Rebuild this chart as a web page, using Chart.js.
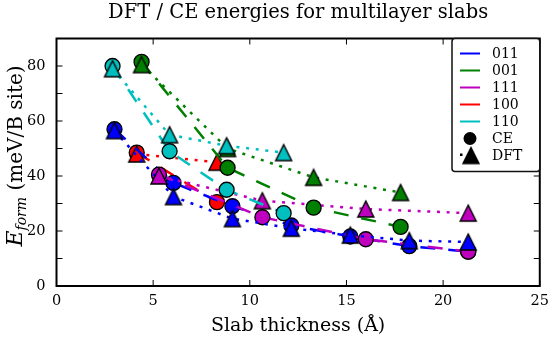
<!DOCTYPE html>
<html>
<head>
<meta charset="utf-8">
<script src="https://cdn.jsdelivr.net/npm/chart.js@4"></script>
<style>
  body { margin: 0; background: #fff; }
  #wrap { width: 556px; height: 343px; }
</style>
</head>
<body>
<div id="wrap"><canvas id="chart"></canvas></div>
<script>
// Slab thickness (Å) and formation energies (meV/B site)
const thick011 = [3.0, 6.05, 9.1, 12.15, 15.2, 18.25, 21.3];
const ce011 = [57, 37.5, 29, 22, 18, 14.5, 12.5];
const dft011 = [56.5, 32.5, 24.5, 21, 18.5, 16.5, 16];

const thick001 = [4.4, 8.85, 13.3, 17.8];
const ce001 = [81.5, 43, 28.5, 21.5];
const dft001 = [80.5, 50, 39.5, 34];

const thick111 = [5.3, 10.65, 16.0, 21.3];
const ce111 = [40.5, 25, 17, 12.5];
const dft111 = [40, 31, 28, 26.5];

const thick100 = [4.15, 8.3];
const ce100 = [48.5, 30.5];
const dft100 = [48, 45];

const thick110 = [2.9, 5.85, 8.8, 11.75];
const ce110 = [80, 49, 35, 26.5];
const dft110 = [79, 55, 51, 48.5];

const xTicks = [0, 5, 10, 15, 20, 25];
const yTicks = [0, 20, 40, 60, 80];
const yMinorTicks = [10, 30, 50, 70];

const SERIF = '"DejaVu Serif", "Liberation Serif", serif';

const colors = {
    '011': '#0000ff',
    '001': '#008000',
    '111': '#bf00bf',
    '100': '#ff0000',
    '110': '#00bfbf'
};
const legendOrder = ['011', '001', '111', '100', '110'];

// matplotlib-like '^' marker: as wide as it is tall
function triangleMarker(fill) {
    const c = document.createElement('canvas');
    c.width = 20;
    c.height = 20;
    const g = c.getContext('2d');
    g.beginPath();
    g.moveTo(10, 2);
    g.lineTo(2, 18);
    g.lineTo(18, 18);
    g.closePath();
    g.fillStyle = fill;
    g.fill();
    g.lineWidth = 1.4;
    g.strokeStyle = '#000';
    g.stroke();
    return c;
}

function pts(xs, ys) {
    return xs.map((x, i) => ({ x: x, y: ys[i] }));
}

function ceSet(key, xs, ys) {
    return {
        label: key + ' CE',
        data: pts(xs, ys),
        showLine: true,
        borderColor: colors[key],
        borderWidth: 2.5,
        borderDash: [15, 13],
        pointStyle: 'circle',
        pointRadius: 7.5,
        pointBorderWidth: 1.3,
        pointBorderColor: '#000',
        pointBackgroundColor: colors[key]
    };
}

function dftSet(key, xs, ys) {
    return {
        label: key + ' DFT',
        data: pts(xs, ys),
        showLine: true,
        borderColor: colors[key],
        borderWidth: 2.5,
        borderDash: [3, 6.7],
        pointStyle: triangleMarker(colors[key]),
        pointRadius: 8,
        pointBackgroundColor: colors[key]
    };
}

// drawing sequence, later ones end up on top
const datasets = [
    ceSet('100', thick100, ce100),
    dftSet('100', thick100, dft100),
    ceSet('011', thick011, ce011),
    ceSet('111', thick111, ce111),
    dftSet('011', thick011, dft011),
    dftSet('111', thick111, dft111),
    ceSet('001', thick001, ce001),
    dftSet('001', thick001, dft001),
    ceSet('110', thick110, ce110),
    dftSet('110', thick110, dft110)
];
datasets.forEach((d, i) => { d.order = datasets.length - i; });

// axes frame with inward ticks on all four sides
const frame = {
    id: 'frame',
    afterDatasetsDraw(chart) {
        const { ctx, chartArea: a, scales } = chart;
        ctx.save();
        ctx.strokeStyle = '#000';
        ctx.lineWidth = 1;
        const len = 6;
        ctx.beginPath();
        xTicks.forEach(v => {
            const px = scales.x.getPixelForValue(v);
            ctx.moveTo(px, a.bottom); ctx.lineTo(px, a.bottom - len);
            ctx.moveTo(px, a.top); ctx.lineTo(px, a.top + len);
        });
        yTicks.concat(yMinorTicks).forEach(v => {
            const py = scales.y.getPixelForValue(v);
            ctx.moveTo(a.left, py); ctx.lineTo(a.left + len, py);
            ctx.moveTo(a.right, py); ctx.lineTo(a.right - len, py);
        });
        ctx.stroke();
        ctx.lineWidth = 2;
        ctx.strokeRect(a.left, a.top, a.right - a.left, a.bottom - a.top);
        ctx.restore();
    }
};

// title centred over the axes, and y axis title with italic E and subscript "form"
const titles = {
    id: 'titles',
    afterDraw(chart) {
        const { ctx, chartArea: a } = chart;
        ctx.save();
        ctx.fillStyle = '#000';
        ctx.font = '19.5px ' + SERIF;
        ctx.textAlign = 'center';
        ctx.textBaseline = 'middle';
        ctx.fillText('DFT / CE energies for multilayer slabs', (a.left + a.right) / 2, 13);

        const parts = [
            { t: 'E', font: 'italic 22px ' + SERIF, dy: 0 },
            { t: 'form', font: 'italic 14px ' + SERIF, dy: 4 },
            { t: ' (meV/B site)', font: '20px ' + SERIF, dy: 0 }
        ];
        let total = 0;
        parts.forEach(p => { ctx.font = p.font; p.w = ctx.measureText(p.t).width; total += p.w; });
        ctx.translate(22, 156);
        ctx.rotate(-Math.PI / 2);
        ctx.textAlign = 'left';
        ctx.textBaseline = 'alphabetic';
        let x = -total / 2;
        parts.forEach(p => {
            ctx.font = p.font;
            ctx.fillText(p.t, x, p.dy);
            x += p.w;
        });
        ctx.restore();
    }
};

// legend box in the top right corner
const legendBox = {
    id: 'legendBox',
    afterDraw(chart) {
        const { ctx, chartArea: a } = chart;
        const left = 452, top = a.top, right = a.right, bottom = 171.5;
        ctx.save();
        ctx.beginPath();
        ctx.roundRect(left, top, right - left, bottom - top, 3);
        ctx.fillStyle = '#fff';
        ctx.fill();
        ctx.lineWidth = 1.5;
        ctx.strokeStyle = '#111';
        ctx.stroke();
        ctx.font = '14px ' + SERIF;
        ctx.textBaseline = 'middle';
        ctx.fillStyle = '#000';
        const rowH = 17;
        const y0 = top + 15;
        legendOrder.forEach((k, i) => {
            const y = y0 + i * rowH;
            ctx.strokeStyle = colors[k];
            ctx.lineWidth = 2;
            ctx.beginPath();
            ctx.moveTo(460, y);
            ctx.lineTo(480, y);
            ctx.stroke();
            ctx.fillText(k, 492, y + 1);
        });
        // CE: circle marker
        let y = y0 + 5 * rowH;
        ctx.beginPath();
        ctx.arc(470, y, 6.5, 0, Math.PI * 2);
        ctx.fill();
        ctx.fillText('CE', 492, y + 1);
        // DFT: dotted line end + triangle marker
        y = y0 + 6 * rowH;
        ctx.fillRect(460, y - 2, 2.5, 2.5);
        ctx.drawImage(triangleMarker('#000'), 461, y - 10);
        ctx.fillText('DFT', 492, y + 1);
        ctx.restore();
    }
};

new Chart(document.getElementById('chart'), {
    type: 'scatter',
    data: { datasets: datasets },
    options: {
        responsive: true,
        maintainAspectRatio: false,
        animation: false,
        events: [],
        layout: { padding: { left: 0, right: 14.5, top: 38.5, bottom: 0 } },
        plugins: {
            legend: { display: false },
            tooltip: { enabled: false },
            title: { display: false }
        },
        scales: {
            x: {
                type: 'linear',
                min: 0,
                max: 25,
                afterBuildTicks: s => { s.ticks = xTicks.map(v => ({ value: v })); },
                afterFit: s => { s.height = 57; },
                grid: { display: false, drawTicks: false },
                border: { display: false },
                ticks: { color: '#000', padding: 7, font: { family: SERIF, size: 14.5 } },
                title: {
                    display: true,
                    text: 'Slab thickness (Å)',
                    color: '#000',
                    font: { family: SERIF, size: 19 },
                    padding: { top: 0, bottom: 5.5 }
                }
            },
            y: {
                type: 'linear',
                min: 0,
                max: 90,
                afterBuildTicks: s => { s.ticks = yTicks.map(v => ({ value: v })); },
                afterFit: s => { s.width = 56.5; },
                grid: { display: false, drawTicks: false },
                border: { display: false },
                ticks: { color: '#000', padding: 11, font: { family: SERIF, size: 14.5 } }
            }
        }
    },
    plugins: [frame, titles, legendBox]
});
</script>
</body>
</html>
